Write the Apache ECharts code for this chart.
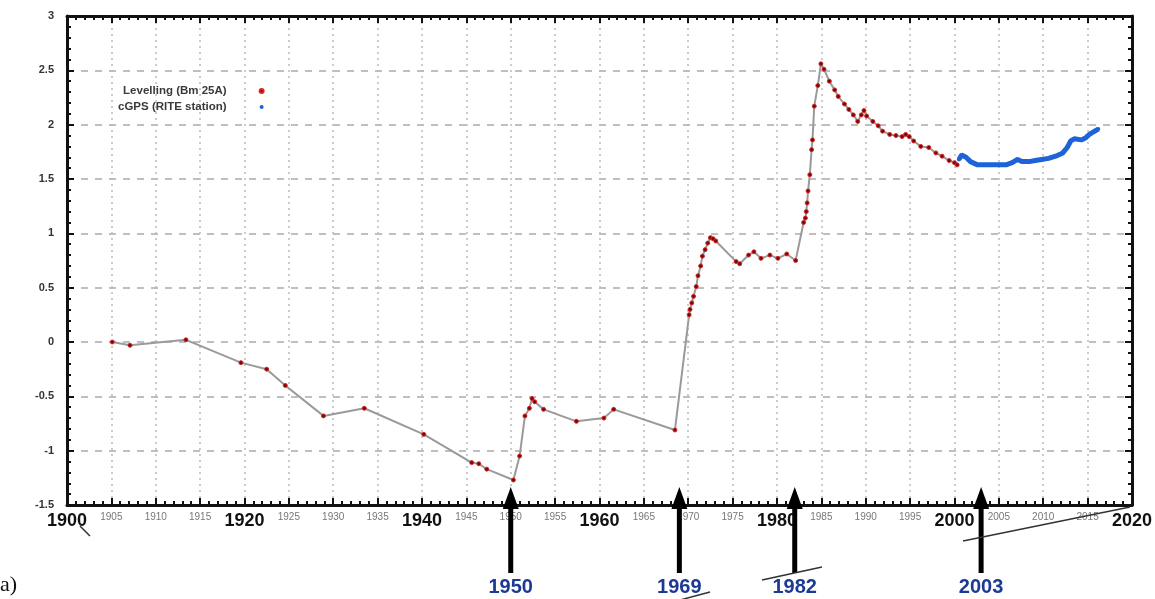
<!DOCTYPE html>
<html><head><meta charset="utf-8">
<script src="https://cdn.jsdelivr.net/npm/echarts@6/dist/echarts.min.js"></script>
<style>html,body{margin:0;padding:0;background:#fff}#c{width:1155px;height:599px}</style>
</head><body><div id="c"></div>
<script>
// Levelling (Bm 25A) — year, uplift (m)
const levYears = [1905.1,1907.1,1913.4,1919.6,1922.5,1924.6,1928.9,1933.5,1940.2,1945.6,1946.4,1947.3,
  1950.3,1951.0,1951.6,1952.1,1952.4,1952.7,1953.7,1957.4,1960.5,1961.6,1968.5,
  1970.1,1970.2,1970.4,1970.6,1970.9,1971.1,1971.4,1971.6,1971.9,1972.2,1972.5,1972.8,1973.1,
  1975.4,1975.8,1976.8,1977.4,1978.2,1979.2,1980.1,1981.1,1982.1,
  1983.0,1983.2,1983.3,1983.4,1983.5,1983.7,1983.9,1984.0,1984.2,1984.6,1984.95,
  1985.3,1985.9,1986.5,1986.9,1987.6,1988.1,1988.6,1989.1,1989.5,1989.8,1990.1,1990.8,1991.4,1991.9,
  1992.7,1993.4,1994.1,1994.5,1994.9,1995.4,1996.2,1997.1,1997.9,1998.6,1999.4,2000.0,2000.3];
const levVals = [0.00,-0.03,0.02,-0.19,-0.25,-0.40,-0.68,-0.61,-0.85,-1.11,-1.12,-1.17,
  -1.27,-1.05,-0.68,-0.61,-0.52,-0.55,-0.62,-0.73,-0.70,-0.62,-0.81,
  0.25,0.30,0.36,0.42,0.51,0.61,0.70,0.79,0.85,0.91,0.96,0.95,0.93,
  0.74,0.72,0.80,0.83,0.77,0.80,0.77,0.81,0.75,
  1.10,1.14,1.20,1.28,1.39,1.54,1.77,1.86,2.17,2.36,2.56,
  2.51,2.40,2.32,2.26,2.19,2.14,2.09,2.03,2.09,2.13,2.08,2.03,1.99,1.94,
  1.91,1.90,1.89,1.91,1.89,1.85,1.80,1.79,1.74,1.71,1.67,1.65,1.63];
// cGPS (RITE station)
const gpsYears = [2000.5,2000.8,2001.3,2001.8,2002.6,2003.5,2004.3,2005.0,2005.8,2006.5,2007.1,2007.6,
  2008.4,2009.1,2009.8,2010.6,2011.4,2012.2,2012.7,2013.1,2013.5,2014.3,2014.8,2015.2,2015.8,2016.2];
const gpsVals = [1.68,1.72,1.70,1.66,1.63,1.63,1.63,1.63,1.63,1.65,1.68,1.66,
  1.66,1.67,1.68,1.69,1.71,1.74,1.79,1.85,1.87,1.86,1.88,1.91,1.94,1.96];
const seriesNames = ['Levelling (Bm 25A)','cGPS (RITE station)'];
const eventYears = [1950,1969,1982,2003];
const eventLabels = ['1950','1969','1982','2003'];

const chart = echarts.init(document.getElementById('c'), null, {renderer:'canvas'});
const zip = (a,b)=>a.map((x,i)=>[x,b[i]]);
const narrow = '"Liberation Sans Narrow","Liberation Sans",Arial,sans-serif';

const frameAxis = {
  axisLine:{show:true,onZero:false,lineStyle:{color:'#111',width:3}},
  axisTick:{show:true,inside:true,length:7,lineStyle:{color:'#111',width:2}},
  minorTick:{show:true,splitNumber:5,length:4,lineStyle:{color:'#111',width:2}}
};

chart.setOption({
  animation:false,
  backgroundColor:'#fff',
  grid:{left:67,right:22,top:16,bottom:94},
  legend:{
    data:seriesNames, orient:'vertical', align:'right', left:113, top:80,
    itemWidth:4, itemHeight:4, itemGap:4, icon:'circle',
    textStyle:{fontSize:11.5,fontWeight:'bold',color:'#3a3a3a',fontFamily:'Liberation Sans, Arial',padding:[0,28,0,0]}
  },
  xAxis:[{
    type:'value', min:1900, max:2020, interval:5, position:'bottom',
    ...frameAxis,
    splitLine:{show:true,lineStyle:{color:'#bbb',type:[2,4],width:1.5}},
    axisLabel:{margin:7,
      formatter:v=> (v%20===0? '{big|'+v+'}' : '{small|'+v+'}'),
      rich:{big:{fontSize:18,fontWeight:'bold',color:'#111',fontFamily:narrow},
            small:{fontSize:10,color:'#777',fontFamily:narrow}}}
  },{
    type:'value', min:1900, max:2020, interval:5, position:'top',
    ...frameAxis, axisLabel:{show:false}, splitLine:{show:false}
  }],
  yAxis:[{
    type:'value', min:-1.5, max:3, interval:0.5, position:'left',
    ...frameAxis,
    splitLine:{show:true,lineStyle:{color:'#aaa',type:[7,7],width:1.5}},
    axisLabel:{margin:13,fontSize:11,fontWeight:'bold',color:'#333',fontFamily:'Liberation Sans, Arial'}
  },{
    type:'value', min:-1.5, max:3, interval:0.5, position:'right',
    ...frameAxis, axisLabel:{show:false}, splitLine:{show:false}
  }],
  series:[{
    name:seriesNames[0], type:'line', data:zip(levYears,levVals),
    symbol:'circle', symbolSize:4, showAllSymbol:true,
    lineStyle:{color:'#9a9a9a',width:2},
    itemStyle:{color:'#6a0c0c',borderColor:'#e02525',borderWidth:1},
    z:3
  },{
    name:seriesNames[1], type:'line', data:zip(gpsYears,gpsVals),
    symbol:'circle', symbolSize:4, showAllSymbol:true,
    lineStyle:{color:'#1e63d8',width:5},
    itemStyle:{color:'#1e63d8'},
    z:4
  }]
});

// annotation arrows under the axis, positioned from event years
const g = [];
eventYears.forEach((yr,i)=>{
  const x = chart.convertToPixel({xAxisIndex:0}, yr);
  const tip = 487, base = 509, bot = 573;
  g.push({type:'polygon', shape:{points:[[x,tip],[x-8,base],[x+8,base]]}, style:{fill:'#000'}, z:100});
  g.push({type:'rect', shape:{x:x-2.5,y:base-1,width:5,height:bot-base+1}, style:{fill:'#000'}, z:100});
  g.push({type:'text', x:x, y:587, style:{text:eventLabels[i], align:'center', verticalAlign:'middle',
    font:'bold 20px '+narrow, fill:'#1c3a94'}, z:100});
});
// hand-drawn strokes from the original figure
const strokes = [[[80,526],[90,536]],[[680,600],[710,592]],[[762,580],[822,567]],[[963,541],[1130,507]]];
strokes.forEach(s=>g.push({type:'line', shape:{x1:s[0][0],y1:s[0][1],x2:s[1][0],y2:s[1][1]},
  style:{stroke:'#333',lineWidth:1.5}, z:100}));
g.push({type:'text', left:0, top:574, style:{text:'a)', font:'22px "Liberation Serif","DejaVu Serif",serif', fill:'#111'}, z:100});
chart.setOption({graphic:g});
</script>
</body></html>
